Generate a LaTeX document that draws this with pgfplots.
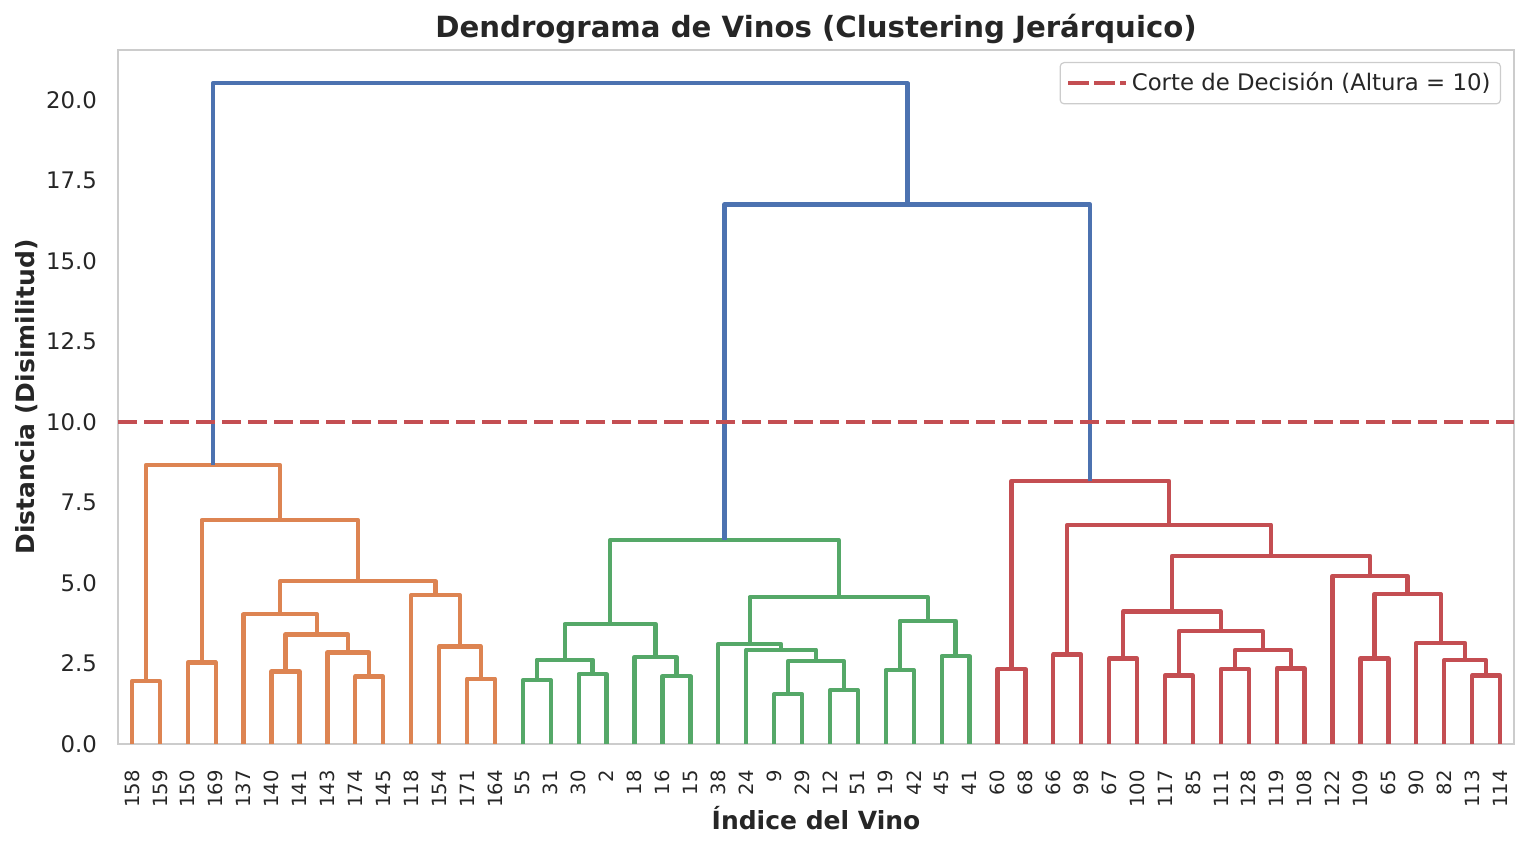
\documentclass[border=0pt]{standalone}
\usepackage{pgfplots}
\pgfplotsset{compat=1.18}
\usepackage{fontspec}
\setmainfont{DejaVu Sans}
\definecolor{txt}{HTML}{262626}
\definecolor{cOr}{HTML}{DD8452}
\definecolor{cGr}{HTML}{55A868}
\definecolor{cRd}{HTML}{C44E52}
\definecolor{cBl}{HTML}{4C72B0}
\definecolor{spine}{HTML}{CCCCCC}

\begin{document}
\begin{tikzpicture}
\begin{axis}[
  scale only axis, width=698pt, height=347pt,
  xmin=0, xmax=500, ymin=0, ymax=21.56,
  axis line style={spine, line width=1.1pt},
  major tick length=0pt,
  xtick={5,15,...,495},
  xticklabels={158,159,150,169,137,140,141,143,174,145,118,154,171,164,
    55,31,30,2,18,16,15,38,24,9,29,12,51,19,42,45,41,
    60,68,66,98,67,100,117,85,111,128,119,108,122,109,65,90,82,113,114},
  x tick label style={rotate=90, anchor=east, font=\fontsize{9.8}{11}\selectfont, text=txt, xshift=-9.5pt},
  ytick={0,2.5,5,7.5,10,12.5,15,17.5,20},
  y tick label style={font=\fontsize{11.4}{13}\selectfont, text=txt, xshift=-7pt},
  /pgf/number format/.cd, fixed, fixed zerofill, precision=1, assume math mode=true,
  /pgfplots/.cd,
  title={Dendrograma de Vinos (Clustering Jerárquico)},
  title style={at={(axis description cs:0.5,1)}, anchor=base, font=\bfseries\fontsize{14.6}{17}\selectfont, text=txt},
  xlabel={Índice del Vino},
  xlabel style={at={(axis description cs:0.5,-0.1239)}, anchor=base, font=\bfseries\fontsize{12.5}{14}\selectfont, text=txt},
  ylabel={Distancia (Disimilitud)},
  ylabel style={at={(axis description cs:-0.0595,0.5)}, anchor=base, font=\bfseries\fontsize{12.5}{14}\selectfont, text=txt},
  legend style={at={(axis description cs:0.9907,0.9827)}, anchor=north east,
    draw=spine, line width=0.6pt, rounded corners=2pt, fill=white,
    font=\fontsize{11.4}{13}\selectfont, text=txt, inner sep=3pt},
  legend image code/.code={\path (-1pt,0pt) -- (27.7pt,0pt); \draw[#1] (0pt,0pt) -- (22.5pt,0pt);},
  every axis plot/.append style={line width=2.15pt, line join=round},
]
% orange cluster
\addplot[cOr, forget plot] coordinates {(5,0)(5,1.95)(15,1.95)(15,0)};
\addplot[cOr, forget plot] coordinates {(25,0)(25,2.53)(35,2.53)(35,0)};
\addplot[cOr, forget plot] coordinates {(55,0)(55,2.25)(65,2.25)(65,0)};
\addplot[cOr, forget plot] coordinates {(85,0)(85,2.10)(95,2.10)(95,0)};
\addplot[cOr, forget plot] coordinates {(75,0)(75,2.84)(90,2.84)(90,2.10)};
\addplot[cOr, forget plot] coordinates {(60,2.25)(60,3.40)(82.5,3.40)(82.5,2.84)};
\addplot[cOr, forget plot] coordinates {(45,0)(45,4.03)(71.25,4.03)(71.25,3.40)};
\addplot[cOr, forget plot] coordinates {(125,0)(125,2.03)(135,2.03)(135,0)};
\addplot[cOr, forget plot] coordinates {(115,0)(115,3.03)(130,3.03)(130,2.03)};
\addplot[cOr, forget plot] coordinates {(105,0)(105,4.62)(122.5,4.62)(122.5,3.03)};
\addplot[cOr, forget plot] coordinates {(58.125,4.03)(58.125,5.06)(113.75,5.06)(113.75,4.62)};
\addplot[cOr, forget plot] coordinates {(30,2.53)(30,6.96)(85.9375,6.96)(85.9375,5.06)};
\addplot[cOr, forget plot] coordinates {(10,1.95)(10,8.67)(57.96875,8.67)(57.96875,6.96)};
% green cluster
\addplot[cGr, forget plot] coordinates {(145,0)(145,1.98)(155,1.98)(155,0)};
\addplot[cGr, forget plot] coordinates {(165,0)(165,2.17)(175,2.17)(175,0)};
\addplot[cGr, forget plot] coordinates {(150,1.98)(150,2.62)(170,2.62)(170,2.17)};
\addplot[cGr, forget plot] coordinates {(195,0)(195,2.11)(205,2.11)(205,0)};
\addplot[cGr, forget plot] coordinates {(185,0)(185,2.71)(200,2.71)(200,2.11)};
\addplot[cGr, forget plot] coordinates {(160,2.62)(160,3.73)(192.5,3.73)(192.5,2.71)};
\addplot[cGr, forget plot] coordinates {(235,0)(235,1.55)(245,1.55)(245,0)};
\addplot[cGr, forget plot] coordinates {(255,0)(255,1.67)(265,1.67)(265,0)};
\addplot[cGr, forget plot] coordinates {(240,1.55)(240,2.58)(260,2.58)(260,1.67)};
\addplot[cGr, forget plot] coordinates {(225,0)(225,2.93)(250,2.93)(250,2.58)};
\addplot[cGr, forget plot] coordinates {(215,0)(215,3.11)(237.5,3.11)(237.5,2.93)};
\addplot[cGr, forget plot] coordinates {(275,0)(275,2.30)(285,2.30)(285,0)};
\addplot[cGr, forget plot] coordinates {(295,0)(295,2.73)(305,2.73)(305,0)};
\addplot[cGr, forget plot] coordinates {(280,2.30)(280,3.83)(300,3.83)(300,2.73)};
\addplot[cGr, forget plot] coordinates {(226.25,3.11)(226.25,4.56)(290,4.56)(290,3.83)};
\addplot[cGr, forget plot] coordinates {(176.25,3.73)(176.25,6.33)(258.125,6.33)(258.125,4.56)};
% red cluster
\addplot[cRd, forget plot] coordinates {(315,0)(315,2.33)(325,2.33)(325,0)};
\addplot[cRd, forget plot] coordinates {(335,0)(335,2.78)(345,2.78)(345,0)};
\addplot[cRd, forget plot] coordinates {(355,0)(355,2.66)(365,2.66)(365,0)};
\addplot[cRd, forget plot] coordinates {(375,0)(375,2.13)(385,2.13)(385,0)};
\addplot[cRd, forget plot] coordinates {(395,0)(395,2.33)(405,2.33)(405,0)};
\addplot[cRd, forget plot] coordinates {(415,0)(415,2.35)(425,2.35)(425,0)};
\addplot[cRd, forget plot] coordinates {(400,2.33)(400,2.92)(420,2.92)(420,2.35)};
\addplot[cRd, forget plot] coordinates {(380,2.13)(380,3.51)(410,3.51)(410,2.92)};
\addplot[cRd, forget plot] coordinates {(360,2.66)(360,4.12)(395,4.12)(395,3.51)};
\addplot[cRd, forget plot] coordinates {(445,0)(445,2.66)(455,2.66)(455,0)};
\addplot[cRd, forget plot] coordinates {(485,0)(485,2.13)(495,2.13)(495,0)};
\addplot[cRd, forget plot] coordinates {(475,0)(475,2.60)(490,2.60)(490,2.13)};
\addplot[cRd, forget plot] coordinates {(465,0)(465,3.14)(482.5,3.14)(482.5,2.60)};
\addplot[cRd, forget plot] coordinates {(450,2.66)(450,4.66)(473.75,4.66)(473.75,3.14)};
\addplot[cRd, forget plot] coordinates {(435,0)(435,5.22)(461.875,5.22)(461.875,4.66)};
\addplot[cRd, forget plot] coordinates {(377.5,4.12)(377.5,5.84)(448.4375,5.84)(448.4375,5.22)};
\addplot[cRd, forget plot] coordinates {(340,2.78)(340,6.81)(412.96875,6.81)(412.96875,5.84)};
\addplot[cRd, forget plot] coordinates {(320,2.33)(320,8.17)(376.484375,8.17)(376.484375,6.81)};
% links above the cut
\addplot[cBl, forget plot] coordinates {(217.1875,6.33)(217.1875,16.76)(348.2421875,16.76)(348.2421875,8.17)};
\addplot[cBl, forget plot] coordinates {(33.984375,8.67)(33.984375,20.53)(282.71484375,20.53)(282.71484375,16.76)};
% decision cut
\addplot[cRd, dash pattern=on 9.5pt off 3.5pt] coordinates {(0,10)(500,10)};
\addlegendentry{Corte de Decisión (Altura = 10)}
\end{axis}
\pgfresetboundingbox
\path[use as bounding box] ([shift={(-59pt,-53.5pt)}]current axis.south west) rectangle ([shift={(7pt,25pt)}]current axis.north east);
\end{tikzpicture}
\end{document}
